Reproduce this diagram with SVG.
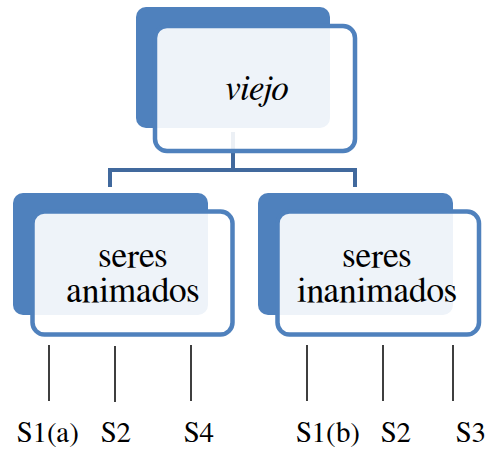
<svg xmlns="http://www.w3.org/2000/svg" width="489" height="451" viewBox="0 0 489 451">
<style>
.back{fill:#4F81BD}
.front{fill:#FFFFFF;fill-opacity:0.9;stroke:#4F81BD;stroke-width:4.5}
.conn{fill:none;stroke:#41699D;stroke-width:4}
.leaf{stroke:#000;stroke-width:1.5}
.t{font-size:35.5px}
.l{font-size:29px}
</style>
<rect width="489" height="451" fill="#FFFFFF"/>
<g id="connectors">
<path class="conn" d="M233 132 V170 M110 187 V170 H355 V187"/>
<path class="leaf" d="M49 345 V401 M115 346 V402 M191 345 V401 M307 345 V401 M383 345 V401 M453 345 V401"/>
</g>
<g fill="#000" text-anchor="middle" font-family="FreeSerif, 'Liberation Serif', 'Noto Serif', serif">
<g id="viejo">
<rect class="back" x="136" y="7" width="194" height="121" rx="10"/>
<rect class="front" x="155" y="26" width="200" height="125" rx="12"/>
<text class="t" x="256" y="100" font-style="italic">viejo</text>
</g>
<g id="seres-animados">
<rect class="back" x="13" y="193" width="195" height="122" rx="10"/>
<rect class="front" x="32.5" y="211.5" width="200" height="123" rx="12"/>
<text class="t" x="133" y="267">seres</text>
<text class="t" x="133" y="302">animados</text>
</g>
<g id="seres-inanimados">
<rect class="back" x="258" y="193" width="195" height="122" rx="10"/>
<rect class="front" x="277.5" y="211.5" width="201.5" height="123" rx="12"/>
<text class="t" x="377" y="267">seres</text>
<text class="t" x="377" y="302">inanimados</text>
</g>
<g id="leaves">
<text class="l" x="48" y="442">S1(a)</text>
<text class="l" x="116" y="442">S2</text>
<text class="l" x="199" y="442">S4</text>
<text class="l" x="328" y="442">S1(b)</text>
<text class="l" x="396" y="442">S2</text>
<text class="l" x="471" y="442">S3</text>
</g>
</g>
</svg>
